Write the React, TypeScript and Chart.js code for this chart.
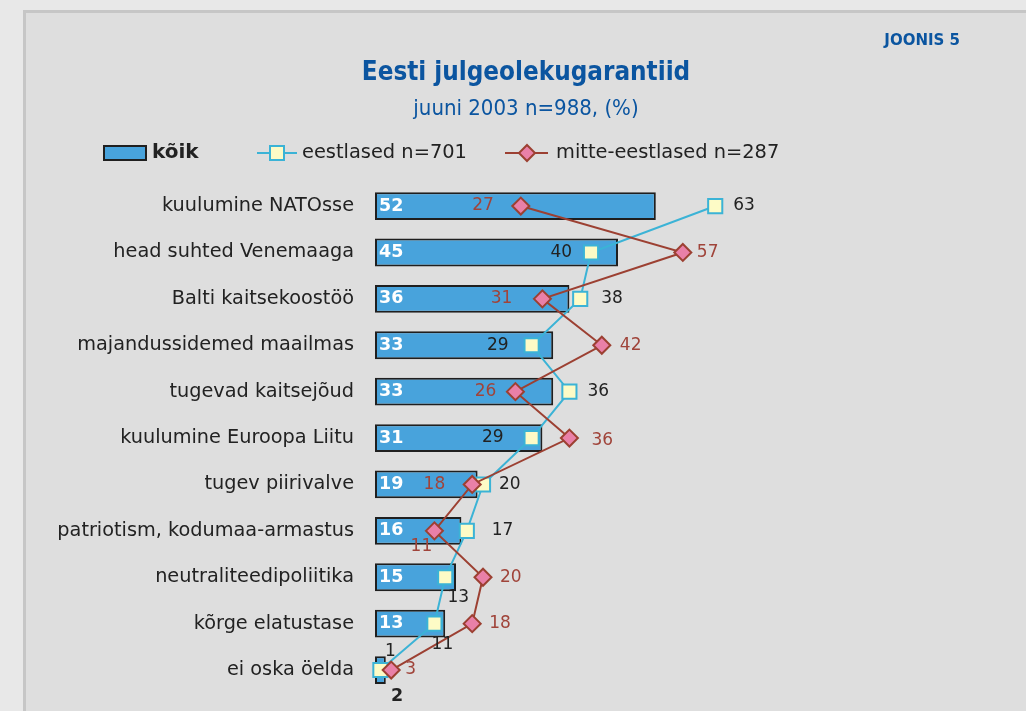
import React, { useEffect, useRef } from "react";
import { Chart, registerables } from "chart.js";

Chart.register(...registerables);

const categories = [
  "kuulumine NATOsse",
  "head suhted Venemaaga",
  "Balti kaitsekoostöö",
  "majandussidemed maailmas",
  "tugevad kaitsejõud",
  "kuulumine Euroopa Liitu",
  "tugev piirivalve",
  "patriotism, kodumaa-armastus",
  "neutraliteedipoliitika",
  "kõrge elatustase",
  "ei oska öelda",
];
const koik = [52, 45, 36, 33, 33, 31, 19, 16, 15, 13, 2];
const eestlased = [63, 40, 38, 29, 36, 29, 20, 17, 13, 11, 1];
const mitteEestlased = [27, 57, 31, 42, 26, 36, 18, 11, 20, 18, 3];

const seriesNames = ["kõik", "eestlased n=701", "mitte-eestlased n=287"];
const titleText = "Eesti julgeolekugarantiid";
const subtitleText = "juuni 2003 n=988, (%)";
const figureLabel = "JOONIS 5";

// label offsets [dx, dy, align] relative to point centre
const eestLabelPos: [number, number, CanvasTextAlign][] = [
  [18, 0, "left"],
  [-19, 0, "right"],
  [21, 0, "left"],
  [-23, 0, "right"],
  [18, 0, "left"],
  [-28, 0, "right"],
  [16, 0, "left"],
  [25, 0, "left"],
  [13, 20, "center"],
  [8, 21, "center"],
  [10, -18, "center"],
];
const mitteLabelPos: [number, number, CanvasTextAlign][] = [
  [-27, 0, "right"],
  [14, 0, "left"],
  [-30, 0, "right"],
  [18, 0, "left"],
  [-19, 0, "right"],
  [22, 3, "left"],
  [-27, 0, "right"],
  [-13, 16, "center"],
  [17, 0, "left"],
  [17, 0, "left"],
  [14, 0, "left"],
];

const BAR_FILL = "#48a3dc";
const BAR_BORDER = "#1f1f1f";
const CYAN = "#3bb3d6";
const SQ_FILL = "#fdfbc6";
const BROWN = "#9c4032";
const PINK = "#e980a8";
const BLUE_TEXT = "#0b55a0";
const DARK = "#222222";
const FONT = "'DejaVu Sans', Verdana, sans-serif";
const COND = "'DejaVu Sans Condensed', 'DejaVu Sans', sans-serif";

const overlayPlugin = {
  id: "overlay",
  afterDatasetsDraw(chart: any) {
    const ctx = chart.ctx as CanvasRenderingContext2D;
    ctx.save();
    ctx.textBaseline = "middle";
    const barMeta = chart.getDatasetMeta(0);
    barMeta.data.forEach((el: any, i: number) => {
      const v = koik[i];
      const left = chart.chartArea.left;
      ctx.font = `bold 17.5px ${FONT}`;
      if (el.x - left > 30) {
        ctx.fillStyle = "#ffffff";
        ctx.textAlign = "left";
        ctx.fillText(String(v), left + 4, el.y);
      } else {
        ctx.fillStyle = DARK;
        ctx.textAlign = "center";
        ctx.fillText(String(v), left + 22, el.y + 26);
      }
    });
    ctx.font = `17px ${FONT}`;
    const eMeta = chart.getDatasetMeta(1);
    eMeta.data.forEach((el: any, i: number) => {
      const p = eestLabelPos[i];
      ctx.fillStyle = DARK;
      ctx.textAlign = p[2];
      ctx.fillText(String(eestlased[i]), el.x + p[0], el.y + p[1]);
    });
    const mMeta = chart.getDatasetMeta(2);
    mMeta.data.forEach((el: any, i: number) => {
      const p = mitteLabelPos[i];
      ctx.fillStyle = "#a0443a";
      ctx.textAlign = p[2];
      ctx.fillText(String(mitteEestlased[i]), el.x + p[0], el.y + p[1]);
    });
    ctx.restore();
  },
  afterDraw(chart: any) {
    const ctx = chart.ctx as CanvasRenderingContext2D;
    ctx.save();
    ctx.textBaseline = "middle";
    ctx.font = `bold 15px ${FONT}`;
    ctx.fillStyle = BLUE_TEXT;
    ctx.textAlign = "right";
    ctx.fillText(figureLabel, 960, 41);
    const ly = 153;
    ctx.fillStyle = BAR_FILL;
    ctx.fillRect(104, ly - 7, 42, 14);
    ctx.strokeStyle = BAR_BORDER;
    ctx.lineWidth = 2;
    ctx.strokeRect(104, ly - 7, 42, 14);
    ctx.textAlign = "left";
    ctx.fillStyle = DARK;
    ctx.font = `bold 20px ${FONT}`;
    ctx.fillText(seriesNames[0], 152, ly);
    ctx.strokeStyle = CYAN;
    ctx.lineWidth = 2;
    ctx.beginPath();
    ctx.moveTo(257, ly);
    ctx.lineTo(297, ly);
    ctx.stroke();
    ctx.fillStyle = SQ_FILL;
    ctx.fillRect(270, ly - 7, 14, 14);
    ctx.strokeRect(270, ly - 7, 14, 14);
    ctx.fillStyle = DARK;
    ctx.font = `19.4px ${FONT}`;
    ctx.fillText(seriesNames[1], 302, ly);
    ctx.strokeStyle = BROWN;
    ctx.beginPath();
    ctx.moveTo(505, ly);
    ctx.lineTo(548, ly);
    ctx.stroke();
    ctx.fillStyle = PINK;
    ctx.beginPath();
    ctx.moveTo(527, ly - 8);
    ctx.lineTo(535, ly);
    ctx.lineTo(527, ly + 8);
    ctx.lineTo(519, ly);
    ctx.closePath();
    ctx.fill();
    ctx.stroke();
    ctx.fillStyle = DARK;
    ctx.fillText(seriesNames[2], 556, ly);
    ctx.restore();
  },
};

export default function App() {
  const ref = useRef<HTMLCanvasElement | null>(null);
  useEffect(() => {
    if (!ref.current) return;
    const chart = new Chart(ref.current, {
      type: "bar",
      data: {
        labels: categories,
        datasets: [
          {
            type: "bar",
            label: seriesNames[0],
            data: koik,
            backgroundColor: BAR_FILL,
            borderColor: BAR_BORDER,
            borderWidth: 2,
            borderSkipped: false,
            barPercentage: 0.6,
            categoryPercentage: 1,
            order: 3,
          } as any,
          {
            type: "line",
            label: seriesNames[1],
            data: eestlased,
            borderColor: CYAN,
            borderWidth: 2,
            pointStyle: "rect",
            pointRadius: 10,
            pointBackgroundColor: SQ_FILL,
            pointBorderColor: CYAN,
            pointBorderWidth: 2,
            tension: 0,
            clip: false,
            order: 2,
          } as any,
          {
            type: "line",
            label: seriesNames[2],
            data: mitteEestlased,
            borderColor: BROWN,
            borderWidth: 2,
            pointStyle: "rectRot",
            pointRadius: 8.5,
            pointBackgroundColor: PINK,
            pointBorderColor: BROWN,
            pointBorderWidth: 2,
            tension: 0,
            clip: false,
            order: 1,
          } as any,
        ],
      },
      options: {
        indexAxis: "y",
        responsive: false,
        animation: false,
        devicePixelRatio: 1,
        layout: { autoPadding: false, padding: { top: 0, bottom: 17.75, left: 26, right: 0 } },
        scales: {
          x: { display: false, min: 0, max: 120.55 },
          y: {
            grid: { display: false, drawTicks: true, tickLength: 21 },
            border: { display: false },
            ticks: { padding: 0, color: DARK, font: { family: FONT, size: 19.3 } },
            afterFit: (scale: any) => {
              scale.width = 349;
            },
          },
        },
        plugins: {
          legend: { display: false },
          tooltip: { enabled: false },
          title: {
            display: true,
            text: titleText,
            color: BLUE_TEXT,
            font: { family: COND, size: 25.8, weight: "bold", lineHeight: 1.2 },
            padding: { top: 57.5, bottom: 0 },
          },
          subtitle: {
            display: true,
            text: subtitleText,
            color: BLUE_TEXT,
            font: { family: COND, size: 22, lineHeight: 1.2 },
            padding: { top: 8, bottom: 60 },
          },
        },
      },
      plugins: [overlayPlugin],
    } as any);
    return () => chart.destroy();
  }, []);
  return (
    <div
      style={{
        position: "absolute",
        left: 0,
        top: 0,
        width: 1026,
        height: 711,
        overflow: "hidden",
        background: "#e8e8e8",
      }}
    >
      <div
        style={{
          position: "absolute",
          left: 23,
          top: 10,
          width: 1100,
          height: 800,
          background: "#dedede",
          borderTop: "3px solid #c6c6c6",
          borderLeft: "3px solid #c6c6c6",
        }}
      />
      <canvas
        ref={ref}
        width={1026}
        height={711}
        style={{ position: "absolute", left: 0, top: 0, width: 1026, height: 711 }}
      />
    </div>
  );
}
